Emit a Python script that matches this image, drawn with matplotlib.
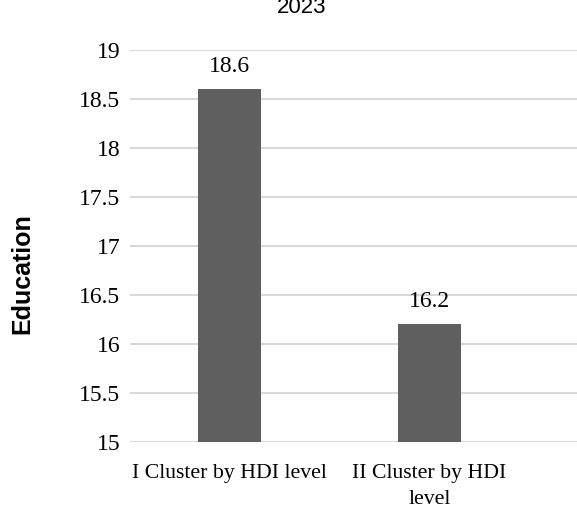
import matplotlib
matplotlib.use("Agg")
import matplotlib.pyplot as plt
import numpy as np

# Average years of education per HDI cluster, 2023
clusters = ["I Cluster by HDI level", "II Cluster by HDI\nlevel"]
education = [18.6, 16.2]
y_ticks = [15, 15.5, 16, 16.5, 17, 17.5, 18, 18.5, 19]

serif = "Liberation Serif"
sans = "Liberation Sans"

fig = plt.figure(figsize=(5.77, 5.12), dpi=100)
ax = fig.add_axes([130 / 577, 70 / 512, 447 / 577, 392 / 512])

x = np.arange(len(clusters))
ax.bar(x, education, width=0.315, color="#5f5f5f", zorder=3)

# value labels above the bars
for xi, val in zip(x, education):
    ax.annotate(f"{val}", (xi, val), xytext=(0, 9), textcoords="offset points",
                ha="center", va="bottom", fontsize=17, family=serif)

ax.set_ylim(15, 19)
ax.set_xlim(-0.4975, 1.7375)
ax.set_yticks(y_ticks)
ax.set_yticklabels([f"{t:g}" for t in y_ticks], family=serif, fontsize=17)
ax.set_xticks(x)
ax.set_xticklabels(clusters, family=serif, fontsize=15.7, linespacing=1.5)
ax.tick_params(length=0, pad=7)
ax.tick_params(axis="x", pad=16)

ax.grid(axis="y", color="#d9d9d9", linewidth=1.5, zorder=0)
for s in ax.spines.values():
    s.set_visible(False)

fig.text(302 / 577, 1 - 13 / 512, "2023", ha="center", va="baseline",
         fontsize=16, family=sans)
fig.text(22 / 577, 1 - 274 / 512, "Education", rotation=90, ha="center",
         va="center", fontsize=18, fontweight="bold", family=sans)

fig.savefig("out.png", dpi=100)
